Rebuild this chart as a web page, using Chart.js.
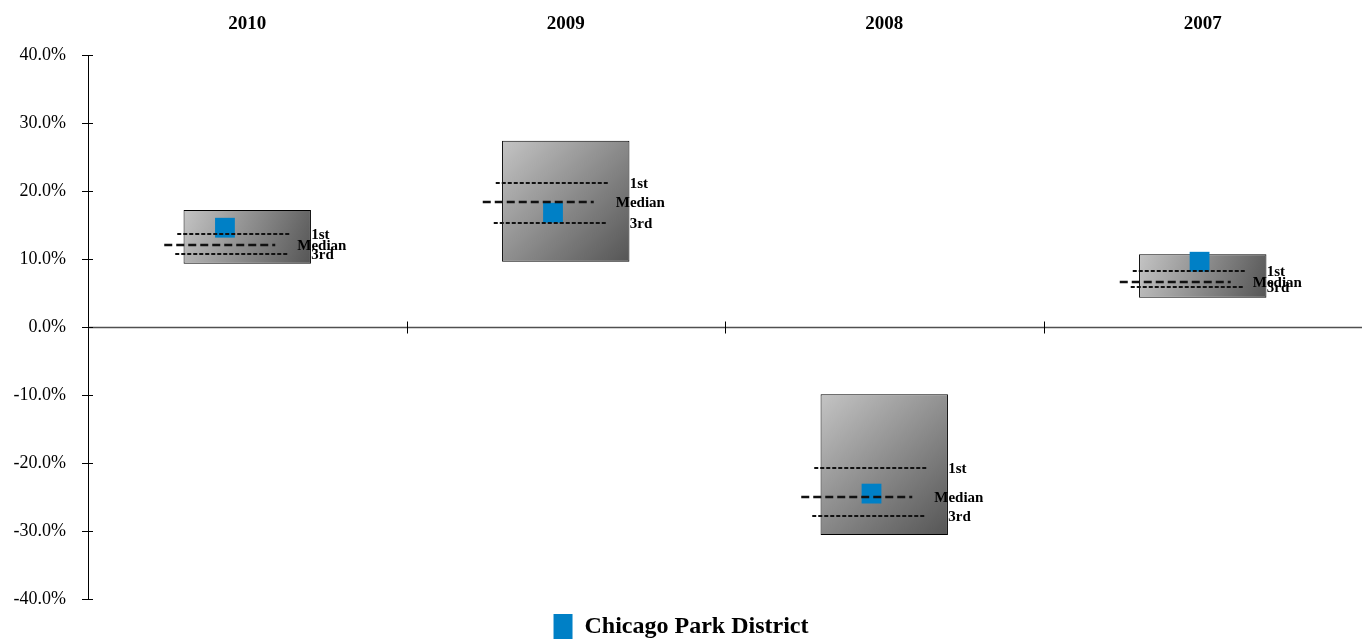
<!DOCTYPE html>
<html>
<head>
<meta charset="utf-8">
<script src="https://cdn.jsdelivr.net/npm/chart.js@4.4.1/dist/chart.umd.min.js"></script>
<style>
  html, body { margin: 0; padding: 0; background: #fff; }
  #wrap { width: 1362px; height: 644px; }
</style>
</head>
<body>
<div id="wrap"><canvas id="quartiles"></canvas></div>
<script>
const years = ['2010', '2009', '2008', '2007'];
const boxHigh = [17.2, 27.4, -9.9, 10.7];
const boxLow = [9.3, 9.6, -30.6, 4.3];
const firstQuartile = [13.7, 21.2, -20.7, 8.2];
const medianQuartile = [12.1, 18.4, -25.0, 6.6];
const thirdQuartile = [10.7, 15.3, -27.8, 5.9];
const parkDistrict = [14.6, 16.8, -24.5, 9.6];
const parkPosition = [-0.07, 0.96, 1.96, 2.99];

const serif = "'Liberation Serif', 'Times New Roman', serif";

// quartile guide lines: pixel extents around the category centre, dash pattern, label offset
const guides = [
  { values: firstQuartile, label: '1st', from: -70, to: 42, dash: [4, 2], width: 2, textX: 64 },
  { values: medianQuartile, label: 'Median', from: -83, to: 28, dash: [8, 4], width: 2.5, textX: 50 },
  { values: thirdQuartile, label: '3rd', from: -72, to: 40, dash: [4, 2], width: 2, textX: 64 }
];

function boxFill(context) {
  const chart = context.chart;
  const i = context.dataIndex;
  if (!chart.chartArea || i === undefined || !chart.scales.x) return '#909090';
  const x = chart.scales.x.getPixelForValue(i);
  const half = chart.scales.x.width / years.length * 0.2;
  const top = chart.scales.y.getPixelForValue(boxHigh[i]);
  const bottom = chart.scales.y.getPixelForValue(boxLow[i]);
  const g = chart.ctx.createLinearGradient(x - half, top, x + half, bottom);
  g.addColorStop(0, '#c4c4c4');
  g.addColorStop(1, '#555555');
  return g;
}

const axisLines = {
  id: 'axisLines',
  afterLayout(chart) {
    // nudge the legend row down a little
    if (chart.legend) {
      chart.legend.top += 5;
      chart.legend.bottom += 5;
    }
  },
  beforeDatasetsDraw(chart) {
    const { ctx, chartArea, scales } = chart;
    const y0 = Math.round(scales.y.getPixelForValue(0)) + 0.5;
    ctx.save();
    ctx.strokeStyle = '#505050';
    ctx.lineWidth = 1.5;
    ctx.beginPath();
    ctx.moveTo(chartArea.left, y0);
    ctx.lineTo(chartArea.right, y0);
    ctx.stroke();
    // category dividers on the zero line
    ctx.strokeStyle = '#000';
    ctx.lineWidth = 1;
    const step = scales.x.width / years.length;
    for (let i = 1; i < years.length; i++) {
      const x = Math.round(chartArea.left + step * i) + 0.5;
      ctx.beginPath();
      ctx.moveTo(x, y0 - 6);
      ctx.lineTo(x, y0 + 6);
      ctx.stroke();
    }
    // right half of the y tick marks
    scales.y.ticks.forEach(t => {
      const y = Math.round(scales.y.getPixelForValue(t.value)) + 0.5;
      ctx.beginPath();
      ctx.moveTo(chartArea.left, y);
      ctx.lineTo(chartArea.left + 5, y);
      ctx.stroke();
    });
    ctx.restore();
  },
  afterDatasetsDraw(chart) {
    const { ctx, scales } = chart;
    ctx.save();
    ctx.strokeStyle = '#111';
    ctx.fillStyle = '#000';
    ctx.font = 'bold 15px ' + serif;
    ctx.textBaseline = 'middle';
    ctx.textAlign = 'left';
    years.forEach((yr, i) => {
      const cx = scales.x.getPixelForValue(i);
      guides.forEach(g => {
        const y = Math.round(scales.y.getPixelForValue(g.values[i]));
        ctx.setLineDash(g.dash);
        ctx.lineWidth = g.width;
        ctx.beginPath();
        ctx.moveTo(cx + g.from, y);
        ctx.lineTo(cx + g.to, y);
        ctx.stroke();
        ctx.fillText(g.label, cx + g.textX, y + 1);
      });
    });
    ctx.restore();
  }
};

new Chart(document.getElementById('quartiles'), {
  type: 'bar',
  data: {
    labels: years,
    datasets: [
      {
        label: 'Range',
        data: years.map((y, i) => [boxLow[i], boxHigh[i]]),
        xAxisID: 'x',
        backgroundColor: boxFill,
        borderColor: '#000',
        borderWidth: 1,
        borderSkipped: false,
        grouped: false,
        categoryPercentage: 1,
        barPercentage: 0.4,
        order: 2
      },
      {
        type: 'scatter',
        label: 'Chicago Park District',
        data: parkDistrict.map((v, i) => ({ x: parkPosition[i], y: v })),
        xAxisID: 'xm',
        pointStyle: 'rect',
        pointRadius: 14,
        pointHoverRadius: 14,
        backgroundColor: '#0080c6',
        borderColor: '#0080c6',
        borderWidth: 0,
        order: 1
      }
    ]
  },
  options: {
    responsive: true,
    maintainAspectRatio: false,
    animation: false,
    layout: { padding: 0, autoPadding: false },
    scales: {
      x: {
        position: 'top',
        grid: { display: false, drawTicks: false, tickLength: 0 },
        border: { display: false },
        ticks: { color: '#000', font: { family: serif, size: 19, weight: 'bold' }, padding: 20 },
        afterFit(scale) { scale.height = 55; }
      },
      xm: { type: 'linear', display: false, offset: false, min: -0.5, max: 3.5 },
      y: {
        min: -40,
        max: 40,
        grid: { drawOnChartArea: false, color: '#000', tickLength: 6 },
        border: { display: true, color: '#000', width: 1 },
        ticks: {
          stepSize: 10,
          color: '#000',
          padding: 16,
          font: { family: serif, size: 18 },
          callback: v => v.toFixed(1) + '%'
        },
        afterFit(scale) { scale.width = 88; }
      }
    },
    plugins: {
      legend: {
        position: 'bottom',
        labels: {
          filter: item => item.datasetIndex === 1,
          color: '#000',
          font: { family: serif, size: 24, weight: 'bold' },
          boxWidth: 19,
          boxHeight: 25,
          padding: 10
        }
      },
      tooltip: { enabled: false }
    }
  },
  plugins: [axisLines]
});
</script>
</body>
</html>
